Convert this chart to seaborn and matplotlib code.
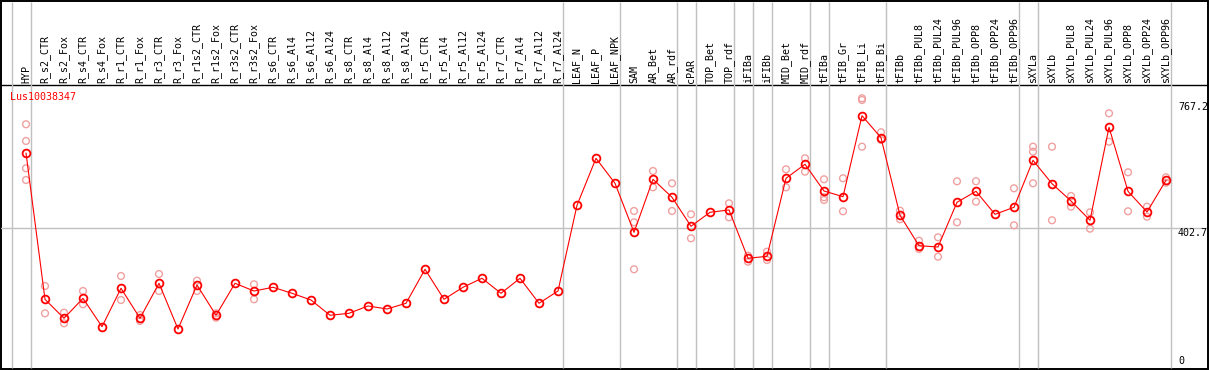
import numpy as np
import pandas as pd
import matplotlib
matplotlib.use("Agg")
import matplotlib.pyplot as plt
import matplotlib.transforms as mtransforms
import seaborn as sns

# Data
gene_id = "Lus10038347"

samples = [
    "HYP",
    "R_s2_CTR", "R_s2_Fox", "R_s4_CTR", "R_s4_Fox", "R_r1_CTR", "R_r1_Fox",
    "R_r3_CTR", "R_r3_Fox", "R_r1s2_CTR", "R_r1s2_Fox", "R_r3s2_CTR", "R_r3s2_Fox",
    "R_s6_CTR", "R_s6_Al4", "R_s6_Al12", "R_s6_Al24",
    "R_s8_CTR", "R_s8_Al4", "R_s8_Al12", "R_s8_Al24",
    "R_r5_CTR", "R_r5_Al4", "R_r5_Al12", "R_r5_Al24",
    "R_r7_CTR", "R_r7_Al4", "R_r7_Al12", "R_r7_Al24",
    "LEAF_N", "LEAF_P", "LEAF_NPK",
    "SAM", "AR_Bet", "AR_rdf", "cPAR", "TOP_Bet", "TOP_rdf",
    "iFIBa", "iFIBb", "MID_Bet", "MID_rdf",
    "tFIBa", "tFIB_Gr", "tFIB_Li", "tFIB_Bi",
    "tFIBb", "tFIBb_PUL8", "tFIBb_PUL24", "tFIBb_PUL96",
    "tFIBb_OPP8", "tFIBb_OPP24", "tFIBb_OPP96",
    "sXYLa", "sXYLb", "sXYLb_PUL8", "sXYLb_PUL24", "sXYLb_PUL96",
    "sXYLb_OPP8", "sXYLb_OPP24", "sXYLb_OPP96",
]

mean_values = [
    619.0,
    195.8, 140.9, 198.7, 116.6, 227.7, 140.9,
    242.1, 109.9, 237.2, 149.6, 242.1, 219.8,
    230.6, 213.2, 193.8, 149.6,
    155.3, 176.5, 167.8, 184.3,
    282.6, 195.8, 230.6, 256.6,
    213.2, 256.6, 184.3, 219.8,
    467.8, 603.7, 531.4,
    389.6, 543.0, 490.9, 407.0, 447.5, 454.2,
    314.4, 320.2, 545.9, 586.4,
    509.1, 492.6, 726.9, 663.3,
    438.8, 350.9, 347.1, 476.4,
    508.2, 441.7, 462.0,
    597.9, 530.2, 480.2, 424.4, 693.4,
    508.2, 448.4, 540.1,
]

rep_samples = [
    "HYP", "HYP", "HYP", "HYP",
    "R_s2_CTR", "R_s2_CTR", "R_s2_Fox", "R_s2_Fox",
    "R_s4_CTR", "R_s4_CTR", "R_r1_CTR", "R_r1_CTR",
    "R_r1_Fox", "R_r1_Fox", "R_r3_CTR", "R_r3_CTR",
    "R_r1s2_CTR", "R_r1s2_CTR", "R_r1s2_Fox", "R_r1s2_Fox",
    "R_r3s2_Fox", "R_r3s2_Fox",
    "SAM", "SAM", "SAM", "AR_Bet", "AR_Bet", "AR_rdf", "AR_rdf",
    "cPAR", "cPAR", "TOP_rdf", "TOP_rdf",
    "iFIBa", "iFIBa", "iFIBb", "iFIBb",
    "MID_Bet", "MID_Bet", "MID_rdf", "MID_rdf",
    "tFIBa", "tFIBa", "tFIBa", "tFIB_Gr", "tFIB_Gr",
    "tFIB_Li", "tFIB_Li", "tFIB_Li", "tFIB_Bi", "tFIB_Bi",
    "tFIBb", "tFIBb", "tFIBb_PUL8", "tFIBb_PUL8",
    "tFIBb_PUL24", "tFIBb_PUL24", "tFIBb_PUL96", "tFIBb_PUL96",
    "tFIBb_OPP8", "tFIBb_OPP8", "tFIBb_OPP96", "tFIBb_OPP96",
    "sXYLa", "sXYLa", "sXYLa", "sXYLb", "sXYLb",
    "sXYLb_PUL8", "sXYLb_PUL8", "sXYLb_PUL24", "sXYLb_PUL24",
    "sXYLb_PUL96", "sXYLb_PUL96", "sXYLb_OPP8", "sXYLb_OPP8",
    "sXYLb_OPP24", "sXYLb_OPP24", "sXYLb_OPP96", "sXYLb_OPP96",
]

rep_values = [
    702.1, 653.8, 574.8, 540.9,
    234.3, 155.3, 157.1, 126.4,
    219.8, 181.4, 263.2, 193.8,
    150.4, 133.1, 269.0, 219.8,
    249.6, 219.8, 155.3, 142.6,
    239.2, 195.8,
    451.3, 418.6, 282.6, 567.0, 519.8, 531.4, 451.3,
    441.7, 372.3, 473.5, 433.0,
    322.0, 304.6, 333.5, 309.5,
    571.9, 519.8, 603.7, 565.0,
    543.0, 490.9, 483.1, 545.9, 450.4,
    777.3, 772.4, 637.3, 678.9, 656.6,
    452.1, 427.3, 365.3, 341.3,
    375.2, 319.1, 537.2, 418.6,
    537.2, 478.2, 516.9, 409.9,
    637.3, 622.8, 531.4, 637.3, 424.4,
    494.7, 463.7, 447.5, 400.1,
    733.9, 651.7, 563.2, 450.4,
    463.7, 434.8, 548.8, 533.1,
]

# a gray separator follows each of these samples
group_ends = [
    "HYP", "R_r7_Al24", "LEAF_NPK", "AR_rdf", "cPAR", "TOP_rdf", "iFIBa",
    "iFIBb", "MID_rdf", "tFIBa", "tFIB_Bi", "tFIBb_OPP96", "sXYLa", "sXYLb_OPP96",
]

y_ticks = [767.2, 402.7, 0]

# Build tables
pos = {s: i for i, s in enumerate(samples)}
means = pd.DataFrame({"sample": samples, "value": mean_values})
means["pos"] = means["sample"].map(pos)
reps = pd.DataFrame({"sample": rep_samples, "value": rep_values})
reps["pos"] = reps["sample"].map(pos)

sns.set_style("white")
plt.rcParams["font.family"] = ["DejaVu Sans Mono"]
FS = 7.2
GRAY = "#c0c0c0"
PINK = "#f0a0a0"

W, H = 1209, 370
fig = plt.figure(figsize=(W / 100, H / 100), dpi=100)

# frame + header separator in pixel coordinates
bg = fig.add_axes([0, 0, 1, 1])
bg.set_xlim(0, W)
bg.set_ylim(H, 0)
bg.axis("off")
bg.add_patch(plt.Rectangle((1, 1), W - 2.5, H - 2.5, fill=False, edgecolor="black", linewidth=1.4))
bg.plot([1, W - 2], [85, 85], color="black", linewidth=1.0)

# data axes
ax = fig.add_axes([1 / W, 1 / H, 1206 / W, 284 / H])
ax.set_xlim(-25 / 19, 1181 / 19)
ax.set_ylim(-5.8, 815.7)
ax.axis("off")

# separators spanning header and plot
fig_x = mtransforms.blended_transform_factory(ax.transData, fig.transFigure)
sep_x = [-1 + 0.237] + [pos[s] + 0.237 for s in group_ends]
ax.vlines(sep_x, 2 / H, 1 - 2 / H, transform=fig_x, color=GRAY, linewidth=1.0, clip_on=False)

ax.axhline(y_ticks[1], color=GRAY, linewidth=1.0, zorder=0)

sns.scatterplot(data=reps, x="pos", y="value", marker="o", s=24,
                facecolor="none", edgecolor=PINK, linewidth=1.0,
                ax=ax, zorder=2, legend=False)
sns.lineplot(data=means, x="pos", y="value", color="red", linewidth=0.8,
             marker="o", markersize=5.6, markerfacecolor="none",
             markeredgecolor="red", markeredgewidth=1.3, ax=ax, zorder=3,
             errorbar=None)

# sample labels in the header
for s, i in pos.items():
    ax.text(i, (H - 83) / H, s, transform=fig_x, rotation=90, ha="center", va="bottom",
            fontsize=FS, color="black")

# gene id
ax.text(10 / W, 1 - 92 / H, gene_id, transform=fig.transFigure, ha="left", va="top",
        fontsize=FS, color="red")

# y value labels on the right
fig_y = mtransforms.blended_transform_factory(fig.transFigure, ax.transData)
for v in y_ticks[:2]:
    ax.text(1178 / W, v, f"{v:.1f}", transform=fig_y, ha="left", va="top",
            fontsize=FS, color="black")
ax.text(1178 / W, 4 / H, f"{y_ticks[2]:g}", transform=fig.transFigure, ha="left",
        va="bottom", fontsize=FS, color="black")

fig.savefig("out.png", dpi=100)
